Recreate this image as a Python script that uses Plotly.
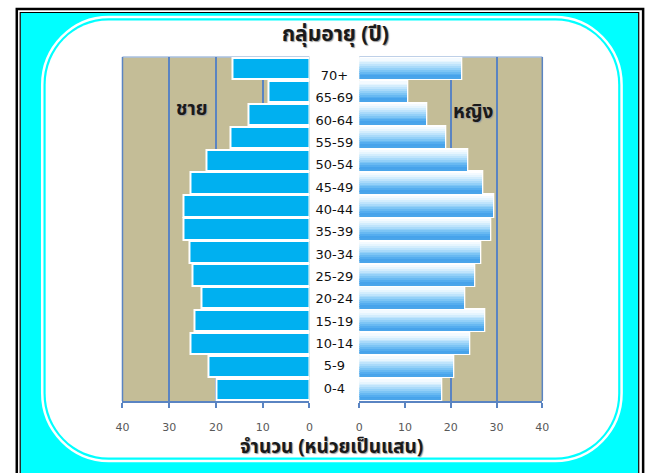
import plotly.graph_objects as go

W, H = 656, 473

age_groups = ["0-4", "5-9", "10-14", "15-19", "20-24", "25-29", "30-34", "35-39",
              "40-44", "45-49", "50-54", "55-59", "60-64", "65-69", "70+"]
male = [19.9, 21.5, 25.4, 24.7, 23.1, 25.0, 25.7, 27.0, 27.0, 25.4, 22.1, 16.9, 13.0, 8.85, 16.4]
female = [17.9, 20.5, 24.0, 27.4, 23.0, 25.2, 26.5, 28.7, 29.2, 26.9, 23.5, 18.9, 14.6, 10.5, 22.2]
x_ticks = [0, 10, 20, 30, 40]

title_text = "กลุ่มอายุ (ปี)"
xtitle_text = "จำนวน (หน่วยเป็นแสน)"
male_label = "ชาย"
female_label = "หญิง"

THAI = "Tahoma, 'Noto Sans Thai', 'Noto Sans Thai UI', Garuda, Loma, 'DejaVu Sans', sans-serif"
TICKF = "Tahoma, 'DejaVu Sans', Verdana, sans-serif"
GRID = "#5a84c2"
TAN = "#c4bd97"
MALE_C = "#00b0f0"

def px(xp):
    return xp / W

def py(yp):
    return 1 - yp / H

fig = go.Figure()

BW = 0.93  # bar thickness in category units

# male bars (left panel)
fig.add_trace(go.Bar(x=male, y=age_groups, orientation="h", xaxis="x", yaxis="y",
                     width=BW, marker=dict(color=MALE_C, line=dict(color="white", width=2)),
                     showlegend=False, hoverinfo="skip"))

# female bars: white backing then gradient strips
fig.add_trace(go.Bar(x=female, y=age_groups, orientation="h", xaxis="x2", yaxis="y2",
                     width=BW, marker=dict(color="white", line=dict(color="white", width=3)),
                     showlegend=False, hoverinfo="skip"))
grad = ["#4aa5ea", "#47a3eb", "#55adef", "#68b9f2", "#7dc5f5", "#93d0f8",
        "#a9dafa", "#bfe4fc", "#d3edfd", "#e6f5fe", "#f3faff"]
inner = BW - 0.04
n = len(grad)
for k, c in enumerate(grad):
    fig.add_trace(go.Bar(x=female, y=age_groups, orientation="h", xaxis="x2", yaxis="y2",
                         width=inner / n + 0.005, offset=-inner / 2 + k * inner / n,
                         marker=dict(color=c, line=dict(width=0)),
                         showlegend=False, hoverinfo="skip"))

# center labels
fig.add_trace(go.Scatter(x=[0] * len(age_groups), y=age_groups, mode="text", text=age_groups,
                         textfont=dict(family=TICKF, size=13, color="#111111"),
                         xaxis="x3", yaxis="y3", showlegend=False, hoverinfo="skip"))

ydom = [py(401), py(57)]
axcommon = dict(tickvals=x_ticks, ticktext=[str(v) for v in x_ticks], showgrid=True,
                gridcolor=GRID, gridwidth=1.5, zeroline=False, showline=True,
                linecolor=GRID, linewidth=1.5, ticks="outside", ticklen=5,
                tickcolor=GRID, tickwidth=1.5, ticklabelstandoff=10,
                tickfont=dict(family=TICKF, size=11, color="#595959"), fixedrange=True)
fig.update_layout(
    width=W, height=H, margin=dict(l=0, r=0, t=0, b=0),
    paper_bgcolor="white", plot_bgcolor="rgba(0,0,0,0)",
    barmode="overlay", bargap=0,
    xaxis=dict(domain=[px(118), px(309)], range=[40, 0], anchor="y", **axcommon),
    yaxis=dict(domain=ydom, anchor="x", categoryorder="array", categoryarray=age_groups,
               range=[-0.5, 14.5], showticklabels=False, showgrid=False, zeroline=False,
               showline=False, ticks=""),
    xaxis2=dict(domain=[px(360), px(547)], range=[0, 40], anchor="y2", **axcommon),
    yaxis2=dict(domain=ydom, anchor="x2", categoryorder="array", categoryarray=age_groups,
                range=[-0.5, 14.5], showticklabels=False, showgrid=False, zeroline=False,
                showline=False, ticks=""),
    xaxis3=dict(domain=[px(309), px(360)], range=[-1, 1], anchor="y3", visible=False),
    yaxis3=dict(domain=[py(400.5), py(65.5)], anchor="x3", categoryorder="array",
                categoryarray=age_groups, range=[-0.5, 14.5], visible=False),
)

shapes = []
# outer frame
shapes.append(dict(type="rect", xref="paper", yref="paper", x0=px(14), x1=px(645), y0=py(490), y1=py(13),
                   fillcolor="#00ffff", line=dict(width=0), layer="below"))
shapes.append(dict(type="rect", xref="paper", yref="paper", x0=px(10), x1=px(650), y0=py(490), y1=py(9),
                   fillcolor="rgba(0,0,0,0)", line=dict(color="black", width=2.5), layer="below"))
shapes.append(dict(type="rect", xref="paper", yref="paper", x0=px(13.5), x1=px(645.5), y0=py(490), y1=py(12.5),
                   fillcolor="rgba(0,0,0,0)", line=dict(color="black", width=1.2), layer="below"))


def rrect(x0, y0, x1, y1, r):
    k = 0.5523 * r
    pts = [
        f"M {px(x0 + r)},{py(y0)}",
        f"L {px(x1 - r)},{py(y0)}",
        f"C {px(x1 - r + k)},{py(y0)} {px(x1)},{py(y0 + r - k)} {px(x1)},{py(y0 + r)}",
        f"L {px(x1)},{py(y1 - r)}",
        f"C {px(x1)},{py(y1 - r + k)} {px(x1 - r + k)},{py(y1)} {px(x1 - r)},{py(y1)}",
        f"L {px(x0 + r)},{py(y1)}",
        f"C {px(x0 + r - k)},{py(y1)} {px(x0)},{py(y1 - r + k)} {px(x0)},{py(y1 - r)}",
        f"L {px(x0)},{py(y0 + r)}",
        f"C {px(x0)},{py(y0 + r - k)} {px(x0 + r - k)},{py(y0)} {px(x0 + r)},{py(y0)}",
        "Z",
    ]
    return " ".join(pts)

shapes.append(dict(type="path", xref="paper", yref="paper", path=rrect(36, 17, 628, 461, 68),
                   fillcolor="rgba(0,0,0,0)", line=dict(color="white", width=2.5), layer="below"))
shapes.append(dict(type="path", xref="paper", yref="paper", path=rrect(39.5, 20.5, 624.5, 457.5, 64),
                   fillcolor="white", line=dict(width=0), layer="below"))
# tan panel backgrounds and outlines
for xr, yr, edge in (("x", "y", 0), ("x2", "y2", 1)):
    shapes.append(dict(type="rect", xref=f"{xr} domain", yref=f"{yr} domain", x0=0, x1=1, y0=0, y1=1,
                       fillcolor=TAN, line=dict(width=0), layer="below"))
    shapes.append(dict(type="line", xref=f"{xr} domain", yref=f"{yr} domain", x0=0, x1=1, y0=1, y1=1,
                       line=dict(color="#a8c0e0", width=1.5), layer="below"))
    shapes.append(dict(type="line", xref=f"{xr} domain", yref=f"{yr} domain", x0=edge, x1=edge,
                       y0=0, y1=1, line=dict(color=GRID, width=1.5), layer="below"))
fig.update_layout(shapes=shapes)

shadow = "1px 1px 1px #9a9a9a"
ann = [
    dict(text=f"<b>{title_text}</b>", x=px(336), y=py(35)),
    dict(text=f"<b>{xtitle_text}</b>", x=px(332), y=py(447)),
    dict(text=f"<b>{male_label}</b>", x=px(189), y=py(110)),
    dict(text=f"<b>{female_label}</b>", x=px(477), y=py(112)),
]
sizes = [21, 19, 19, 19]
fig.update_layout(annotations=[
    dict(a, xref="paper", yref="paper", showarrow=False, xanchor="center", yanchor="middle",
         font=dict(family=THAI, size=s, color="#1a1a1a", shadow=shadow))
    for a, s in zip(ann, sizes)
])

fig.write_html("out.html", config={"displayModeBar": False},
               post_script="document.body.style.margin='0';document.body.style.overflow='hidden';")
